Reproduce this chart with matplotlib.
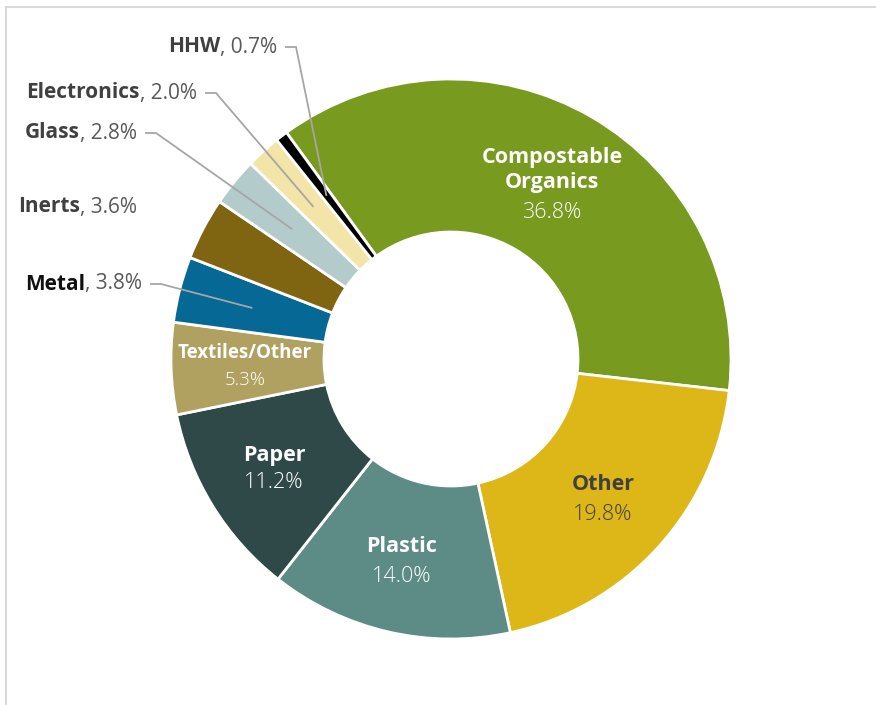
import numpy as np
import matplotlib.pyplot as plt

plt.rcParams['font.family'] = ['Open Sans', 'DejaVu Sans']

categories = ["Compostable\nOrganics", "Other", "Plastic", "Paper", "Textiles/Other",
              "Metal", "Inerts", "Glass", "Electronics", "HHW"]
shares = [36.8, 19.8, 14.0, 11.2, 5.3, 3.8, 3.6, 2.8, 2.0, 0.7]
colors = ["#779a1f", "#ddb718", "#5d8c87", "#2f4948", "#b1a160",
          "#066894", "#7f6411", "#b3cbcb", "#f3e4a8", "#000000"]

W, H = 876, 705
cx, cy = 451, H - 359
R = 280
hole = 127
start = 126

fig = plt.figure(figsize=(W / 100, H / 100), dpi=100)
ax = fig.add_axes([0, 0, 1, 1])

wedges, _ = ax.pie(shares, colors=colors, startangle=start, counterclock=False,
                   radius=R, center=(cx, cy), frame=True,
                   wedgeprops=dict(width=R - hole, edgecolor='white', linewidth=2))
ax.set_xlim(0, W)
ax.set_ylim(0, H)
ax.set_aspect('equal')
ax.axis('off')

# frame lines on top and left
ax.plot([6, W], [H - 7, H - 7], color='#d9d9d9', lw=1.5)
ax.plot([6, 6], [0, H - 7], color='#d9d9d9', lw=1.5)


def mid_angle(i):
    before = sum(shares[:i])
    return np.deg2rad(start - 3.6 * (before + shares[i] / 2))


# labels inside the ring
inner = {0: ("white", 552, 170, 212), 1: ("#404040", 603, 485, 514),
         2: ("white", 402, 547, 576), 3: ("white", 274, 455, 483),
         4: ("white", 245, 353, 380)}
for i, (col, x, yname, ypct) in inner.items():
    fs = 13.5 if i == 4 else 15.5
    ax.text(x, H - yname, categories[i], color=col, fontsize=fs, fontweight='bold',
            ha='center', va='center', linespacing=1.2)
    ax.text(x, H - ypct, f"{shares[i]:.1f}%", color=col, fontsize=fs,
            fontweight='light', ha='center', va='center')

# outside labels with leader lines
outside = {9: (277, 47, True), 8: (197, 93, True), 7: (137, 133, True),
           6: (137, 207, False), 5: (142, 284, True)}
fig.canvas.draw()
for i, (xr, y, leader) in outside.items():
    t = ax.text(xr, H - y, f", {shares[i]:.1f}%", color='#595959', fontsize=15,
                ha='right', va='center')
    bb = t.get_window_extent(renderer=fig.canvas.get_renderer())
    name_col = '#111111' if i == 5 else '#404040'
    ax.text(bb.x0, H - y, categories[i], color=name_col, fontsize=15,
            fontweight='bold', ha='right', va='center')
    if leader:
        a = mid_angle(i)
        ex, ey = cx + 206 * np.cos(a), cy + 206 * np.sin(a)
        ax.plot([xr + 9, xr + 19, ex], [H - y, H - y, ey], color='#a6a6a6', lw=1.3,
                solid_joinstyle='miter')

fig.savefig("out.png", dpi=100)
